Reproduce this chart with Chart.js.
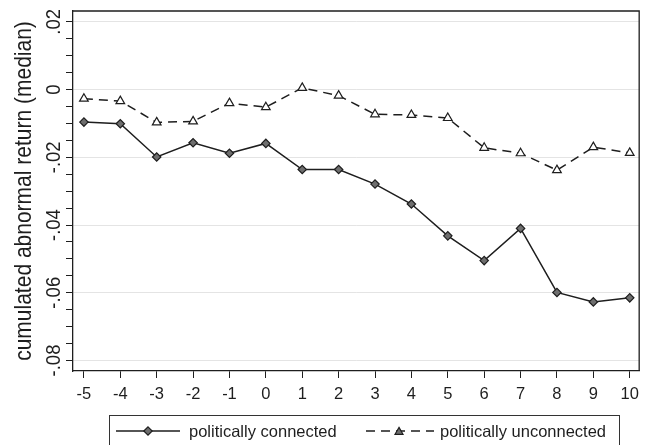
<!DOCTYPE html>
<html>
<head>
<meta charset="utf-8">
<title>Cumulated abnormal return</title>
<script src="https://cdn.jsdelivr.net/npm/chart.js@4.4.1/dist/chart.umd.min.js"></script>
<style>
  html, body { margin: 0; padding: 0; background: #fff; }
  #wrap { width: 646px; height: 445px; }
</style>
</head>
<body>
<div id="wrap"><canvas id="car-chart" width="646" height="445"></canvas></div>
<script>
// event days relative to the announcement
var eventDays = [-5, -4, -3, -2, -1, 0, 1, 2, 3, 4, 5, 6, 7, 8, 9, 10];

// median cumulated abnormal returns
var connected = [-0.0096, -0.0101, -0.0199, -0.0157, -0.0188, -0.0159, -0.0236, -0.0236,
                 -0.0279, -0.0338, -0.0432, -0.0505, -0.0410, -0.0599, -0.0627, -0.0615];
var unconnected = [-0.0027, -0.0034, -0.0097, -0.0094, -0.0040, -0.0052, 0.0005, -0.0018,
                   -0.0073, -0.0075, -0.0084, -0.0172, -0.0188, -0.0238, -0.0170, -0.0187];

var yTickValues = [0.02, 0, -0.02, -0.04, -0.06, -0.08];
var yTickLabels = [".02", "0", "-.02", "-.04", "-.06", "-.08"];
var seriesNames = ["politically connected", "politically unconnected"];
var yTitle = "cumulated abnormal return (median)";

var FONT = '"Liberation Sans", Arial, Helvetica, sans-serif';
var INK = "#1e1e1e";

function toPoints(values) {
  return eventDays.map(function (d, i) { return { x: d, y: values[i] }; });
}

function isMajor(v) {
  return Math.abs(v / 0.02 - Math.round(v / 0.02)) < 1e-6;
}

// diamond / triangle markers for the legend samples
function drawMarker(ctx, kind, x, y, r, fill) {
  ctx.save();
  ctx.beginPath();
  if (kind === "diamond") {
    ctx.moveTo(x, y - r);
    ctx.lineTo(x + r, y);
    ctx.lineTo(x, y + r);
    ctx.lineTo(x - r, y);
  } else {
    for (var k = 0; k < 3; k++) {
      var a = k * 2 * Math.PI / 3;
      var px = x + Math.sin(a) * r, py = y - Math.cos(a) * r;
      if (k === 0) ctx.moveTo(px, py); else ctx.lineTo(px, py);
    }
  }
  ctx.closePath();
  ctx.setLineDash([]);
  ctx.fillStyle = fill;
  ctx.fill();
  ctx.lineWidth = 1.2;
  ctx.strokeStyle = INK;
  ctx.stroke();
  ctx.restore();
}

var stataFrame = {
  id: "stataFrame",
  afterDraw: function (chart) {
    var ctx = chart.ctx;
    var area = chart.chartArea;
    var yScale = chart.scales.y;

    ctx.save();
    // top and right edges of the plot box
    ctx.strokeStyle = INK;
    ctx.lineWidth = 1.3;
    ctx.beginPath();
    ctx.moveTo(area.left, area.top);
    ctx.lineTo(area.right, area.top);
    ctx.lineTo(area.right, area.bottom);
    ctx.stroke();

    // rotated y tick labels
    ctx.fillStyle = INK;
    ctx.font = "18.5px " + FONT;
    ctx.textAlign = "center";
    ctx.textBaseline = "middle";
    yTickValues.forEach(function (v, i) {
      var py = yScale.getPixelForValue(v);
      ctx.save();
      ctx.translate(55, py);
      ctx.scale(1.05, 1);
      ctx.rotate(-Math.PI / 2);
      ctx.fillText(yTickLabels[i], 0, 0);
      ctx.restore();
    });

    // y axis title
    ctx.save();
    ctx.font = "21px " + FONT;
    ctx.translate(25, (area.top + area.bottom) / 2);
    ctx.scale(1.1, 1);
    ctx.rotate(-Math.PI / 2);
    ctx.fillText(yTitle, 0, 0);
    ctx.restore();

    // legend box
    var ly = 431;
    ctx.lineWidth = 1;
    ctx.strokeStyle = "#333";
    ctx.strokeRect(109.5, 415.5, 510, 40);

    ctx.strokeStyle = INK;
    ctx.lineWidth = 1.5;
    ctx.beginPath();
    ctx.moveTo(116, ly);
    ctx.lineTo(180, ly);
    ctx.stroke();
    drawMarker(ctx, "diamond", 148, ly, 4.2, "#6e6e6e");

    ctx.setLineDash([9, 6]);
    ctx.beginPath();
    ctx.moveTo(366, ly);
    ctx.lineTo(434, ly);
    ctx.stroke();
    ctx.setLineDash([]);
    drawMarker(ctx, "triangle", 399, ly + 1, 4.6, "#6e6e6e");

    ctx.font = "16.5px " + FONT;
    ctx.textAlign = "left";
    ctx.fillStyle = INK;
    ctx.fillText(seriesNames[0], 189, ly + 1);
    ctx.fillText(seriesNames[1], 440, ly + 1);
    ctx.restore();
  }
};

new Chart(document.getElementById("car-chart"), {
  type: "line",
  data: {
    datasets: [
      {
        label: seriesNames[0],
        data: toPoints(connected),
        borderColor: INK,
        borderWidth: 1.5,
        pointStyle: "rectRot",
        pointRadius: 4.2,
        pointBackgroundColor: "#6e6e6e",
        pointBorderColor: INK,
        pointBorderWidth: 1.2,
        tension: 0,
      },
      {
        label: seriesNames[1],
        data: toPoints(unconnected),
        borderColor: INK,
        borderWidth: 1.5,
        borderDash: [9, 6],
        pointStyle: "triangle",
        pointRadius: 5,
        pointBackgroundColor: "#ffffff",
        pointBorderColor: INK,
        pointBorderWidth: 1.2,
        tension: 0,
      },
    ],
  },
  options: {
    responsive: false,
    animation: false,
    layout: { padding: { top: 11, right: 2, left: 0, bottom: 0 } },
    plugins: {
      legend: { display: false },
      tooltip: { enabled: false },
    },
    scales: {
      x: {
        type: "linear",
        min: -5.3,
        max: 10.26,
        afterFit: function (scale) { scale.height = 74; },
        ticks: {
          stepSize: 1,
          includeBounds: false,
          autoSkip: false,
          maxRotation: 0,
          color: INK,
          padding: 7,
          font: { family: FONT, size: 16.5 },
          callback: function (v) { return String(v); },
        },
        grid: {
          drawOnChartArea: false,
          drawTicks: true,
          tickLength: 7,
          tickColor: INK,
        },
        border: { display: true, color: INK, width: 1.3 },
      },
      y: {
        type: "linear",
        min: -0.0831,
        max: 0.0232,
        afterFit: function (scale) { scale.width = 73; },
        ticks: {
          display: false,
          stepSize: 0.005,
          includeBounds: false,
        },
        grid: {
          color: function (c) {
            return c.tick && isMajor(c.tick.value) ? "#e4e4e4" : "rgba(0,0,0,0)";
          },
          lineWidth: 1,
          drawTicks: true,
          tickLength: 7,
          tickColor: INK,
        },
        border: { display: true, color: INK, width: 1.3 },
      },
    },
  },
  plugins: [stataFrame],
});
</script>
</body>
</html>
